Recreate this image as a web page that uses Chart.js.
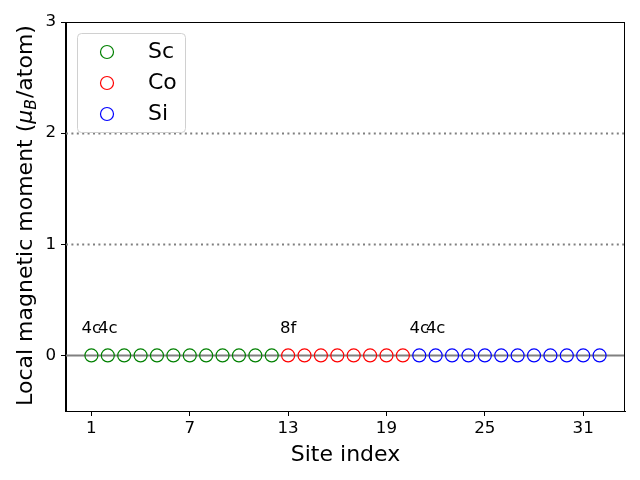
<!DOCTYPE html>
<html>
<head>
<meta charset="utf-8">
<script src="https://cdn.jsdelivr.net/npm/chart.js@4/dist/chart.umd.min.js"></script>
<style>
html,body{margin:0;padding:0;background:#fff;}
#wrap{width:640px;height:480px;position:relative;}
</style>
</head>
<body>
<div id="wrap"><canvas id="c" width="640" height="480"></canvas></div>
<script>
// ---- data ----
const scSites = [1,2,3,4,5,6,7,8,9,10,11,12];
const scMoments = [0,0,0,0,0,0,0,0,0,0,0,0];
const coSites = [13,14,15,16,17,18,19,20];
const coMoments = [0,0,0,0,0,0,0,0];
const siSites = [21,22,23,24,25,26,27,28,29,30,31,32];
const siMoments = [0,0,0,0,0,0,0,0,0,0,0,0];
const xTicks = [1,7,13,19,25,31];
const yTicks = [0,1,2,3];
const siteLabelX = [1,2,13,21,22];
const siteLabelText = ['4c','4c','8f','4c','4c'];
const siteLabelY = 0.2;
const dottedLevels = [1,2];
const solidLevels = [0];

const FONT = "'DejaVu Sans', sans-serif";
const toPts = (xs, ys) => xs.map((x, i) => ({x: x, y: ys[i]}));

const ds = (label, xs, ys, color) => ({
  label: label,
  data: toPts(xs, ys),
  showLine: false,
  pointStyle: 'circle',
  pointRadius: 6.5,
  pointHoverRadius: 6.5,
  pointBorderWidth: 1.2,
  borderColor: color,
  backgroundColor: 'rgba(0,0,0,0)',
  pointBackgroundColor: 'rgba(0,0,0,0)'
});

const decor = {
  id: 'decor',
  beforeDatasetsDraw(chart) {
    const {ctx, chartArea: a, scales: {x, y}} = chart;
    ctx.save();
    ctx.strokeStyle = '#808080';
    ctx.lineWidth = 2;
    ctx.setLineDash([2, 3.4]);
    dottedLevels.forEach(v => {
      const py = Math.round(y.getPixelForValue(v)) + 0.5;
      ctx.beginPath(); ctx.moveTo(a.left, py); ctx.lineTo(a.right, py); ctx.stroke();
    });
    ctx.setLineDash([]);
    solidLevels.forEach(v => {
      const py = y.getPixelForValue(v);
      ctx.beginPath(); ctx.moveTo(a.left, py); ctx.lineTo(a.right, py); ctx.stroke();
    });
    ctx.restore();
  },
  afterDatasetsDraw(chart) {
    const {ctx, chartArea: a, scales: {x, y}} = chart;
    ctx.save();
    // site labels
    ctx.fillStyle = '#000';
    ctx.font = '16.5px ' + FONT;
    ctx.textAlign = 'center';
    ctx.textBaseline = 'alphabetic';
    siteLabelX.forEach((sx, i) => {
      ctx.fillText(siteLabelText[i], x.getPixelForValue(sx), y.getPixelForValue(siteLabelY));
    });
    // frame
    ctx.strokeStyle = '#000';
    ctx.lineWidth = 1;
    ctx.strokeRect(Math.round(a.left) - 0.5, Math.round(a.top) + 0.5, Math.round(a.right - a.left), Math.round(a.bottom - a.top));
    // legend
    const lx = 77.5, ly = 33.5, lw = 108, lh = 99;
    ctx.fillStyle = 'rgba(255,255,255,0.8)';
    ctx.strokeStyle = '#d0d0d0';
    ctx.beginPath();
    ctx.roundRect(lx, ly, lw, lh, 4);
    ctx.fill(); ctx.stroke();
    ctx.font = '22px ' + FONT;
    ctx.textAlign = 'left';
    chart.data.datasets.forEach((d, i) => {
      const my = 52 + i * 31;
      ctx.beginPath();
      ctx.arc(107, my, 6.5, 0, Math.PI * 2);
      ctx.strokeStyle = d.borderColor;
      ctx.lineWidth = 1.2;
      ctx.stroke();
      ctx.fillStyle = '#000';
      ctx.fillText(d.label, 148, my + 6);
    });
    // y title with math
    ctx.translate(32, 215.5);
    ctx.rotate(-Math.PI / 2);
    const p1 = 'Local magnetic moment (', p2 = 'μ', p3 = 'B', p4 = '/atom)';
    const f1 = '22px ' + FONT, fi = 'italic 22px ' + FONT, fs = 'italic 15.5px ' + FONT;
    ctx.font = f1; const w1 = ctx.measureText(p1).width, w4 = ctx.measureText(p4).width;
    ctx.font = fi; const w2 = ctx.measureText(p2).width;
    ctx.font = fs; const w3 = ctx.measureText(p3).width;
    let u = -(w1 + w2 + w3 + w4 + 1) / 2;
    ctx.fillStyle = '#000';
    ctx.textAlign = 'left';
    ctx.font = f1; ctx.fillText(p1, u, 0); u += w1;
    ctx.font = fi; ctx.fillText(p2, u, 0); u += w2;
    ctx.font = fs; ctx.fillText(p3, u, 4); u += w3 + 1;
    ctx.font = f1; ctx.fillText(p4, u, 0);
    ctx.restore();
  }
};

new Chart(document.getElementById('c'), {
  type: 'scatter',
  data: {
    datasets: [
      ds('Sc', scSites, scMoments, '#008000'),
      ds('Co', coSites, coMoments, '#ff0000'),
      ds('Si', siSites, siMoments, '#0000ff')
    ]
  },
  options: {
    responsive: false,
    animation: false,
    devicePixelRatio: 1,
    layout: {padding: {top: 22, right: 15, left: 0, bottom: 0}},
    plugins: {legend: {display: false}, tooltip: {enabled: false}},
    scales: {
      x: {
        type: 'linear', min: -0.55, max: 33.55,
        afterBuildTicks: s => { s.ticks = xTicks.map(v => ({value: v})); },
        afterFit: s => { s.height = 69; },
        grid: {drawOnChartArea: false, tickLength: 5, color: '#000', tickWidth: 1},
        border: {display: true, color: '#000', width: 1},
        ticks: {font: {family: FONT, size: 16.7}, color: '#000', padding: 3, maxRotation: 0, autoSkip: false},
        title: {display: true, text: 'Site index', font: {family: FONT, size: 22}, color: '#000', padding: {top: 0, bottom: 12}}
      },
      y: {
        type: 'linear', min: -0.5, max: 3,
        afterBuildTicks: s => { s.ticks = yTicks.map(v => ({value: v})); },
        afterFit: s => { s.width = 66; },
        grid: {drawOnChartArea: false, tickLength: 5, color: '#000', tickWidth: 1},
        border: {display: true, color: '#000', width: 1},
        ticks: {font: {family: FONT, size: 16.7}, color: '#000', padding: 5},
        title: {display: false}
      }
    }
  },
  plugins: [decor]
});
</script>
</body>
</html>
